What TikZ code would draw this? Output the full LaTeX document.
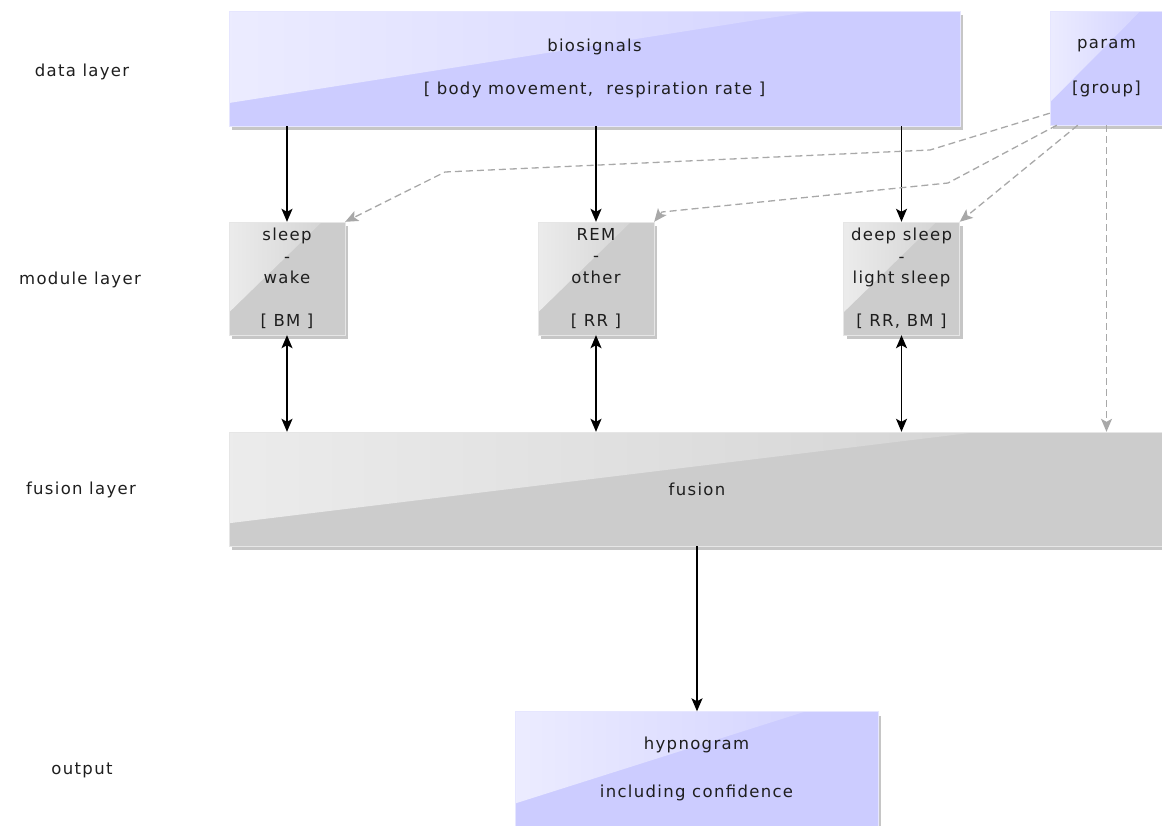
\documentclass[tikz,border=0pt]{standalone}
\usepackage{fontspec}
\setmainfont{DejaVu Sans}[LetterSpace=8]
\usepackage{tikz}
\usetikzlibrary{arrows.meta, positioning, shadows, calc}
\definecolor{boxblue}{HTML}{CCCCFF}
\definecolor{boxgray}{HTML}{CCCCCC}
\definecolor{txtgray}{HTML}{1E1E1E}
\definecolor{dashgray}{HTML}{A8A8A8}

\begin{document}
\begin{tikzpicture}[
  x=1pt, y=-1pt,
  font=\fontsize{16.5}{21.5}\selectfont,
  text=txtgray,
  glass/.style={path picture={
    \shade[left color=white!62!#1, right color=white!6!#1]
      (path picture bounding box.north west)
      -- ($(path picture bounding box.north west)!.80!(path picture bounding box.north east)$)
      -- ($(path picture bounding box.north west)!.80!(path picture bounding box.south west)$)
      -- cycle;}},
  block/.style ={align=center, inner sep=0pt,
                 drop shadow={shadow xshift=3pt, shadow yshift=-4pt, opacity=.45}},
  datab/.style ={block, fill=boxblue, draw=boxblue!50!white, glass=boxblue},
  modb/.style  ={block, fill=boxgray, draw=boxgray!50!white, glass=boxgray,
                 minimum width=116pt, minimum height=113pt},
  fusb/.style  ={block, fill=boxgray, draw=boxgray!50!white, glass=boxgray},
  arr/.style   ={line width=1.5pt, -{Stealth[length=13pt, width=11pt, inset=3pt]}},
  biarr/.style ={line width=1.5pt, {Stealth[length=13pt, width=11pt, inset=3pt]}-{Stealth[length=13pt, width=11pt, inset=3pt]}},
  parr/.style  ={dashgray, line width=1.3pt, dash pattern=on 7pt off 4pt,
                 -{Stealth[length=13pt, width=11pt, inset=3pt]}},
]
\useasboundingbox (0,0) rectangle (1162,825);

% --- layer captions on the left ---
\node (lData) at (82,72)  {data layer};
\node (lMod)  at (80,280) {module layer};
\node (lFus)  at (81,490) {fusion layer};
\node (lOut)  at (82,770) {output};

% --- data layer ---
\node[datab, minimum width=731pt, minimum height=115pt] (bio) at (594.5,68.5)
  {biosignals\\[21.5pt][ body movement,\ \ respiration rate ]};
\node[datab, minimum width=113pt, minimum height=114pt] (par) at (1106.5,68)
  {param\\[23.5pt][group]};

% --- module layer ---
\node[modb] (sw)  at (287,278.5)   {sleep\\-\\wake\\[21.5pt][ BM ]};
\node[modb] (rem) at (596,278.5)   {REM\\-\\other\\[21.5pt][ RR ]};
\node[modb] (dls) at (901.5,278.5) {deep sleep\\-\\light sleep\\[21.5pt][ RR, BM ]};

% --- fusion + output ---
\node[fusb, minimum width=936pt, minimum height=114pt] (fus) at (697,489) {fusion};
\node[datab, minimum width=363pt, minimum height=115pt] (hyp) at (696.5,769)
  {hypnogram\\[26.5pt]including confidence};

% signals down into the modules, modules <-> fusion
\foreach \m in {sw,rem,dls} {
  \draw[arr]   (bio.south -| \m.north) -- (\m.north);
  \draw[biarr] (\m.south) -- (\m.south |- fus.north);
}
\draw[arr] (fus.south) -- (fus.south |- hyp.north);

% parameter feeds (dashed)
\coordinate (k1) at (930,150);
\coordinate (k2) at (445,172);
\coordinate (k3) at (948,183);
\coordinate (k4) at (662,212);
\draw[parr] ([yshift=12pt]par.south west) -- (k1) -- (k2) -- (sw.north east);
\draw[parr] ([xshift=7pt]par.south west) -- (k3) -- (k4) -- (rem.north east);
\draw[parr] ([xshift=28pt]par.south west) -- (dls.north east);
\draw[parr] (par.south) -- (par.south |- fus.north);

\end{tikzpicture}
\end{document}
